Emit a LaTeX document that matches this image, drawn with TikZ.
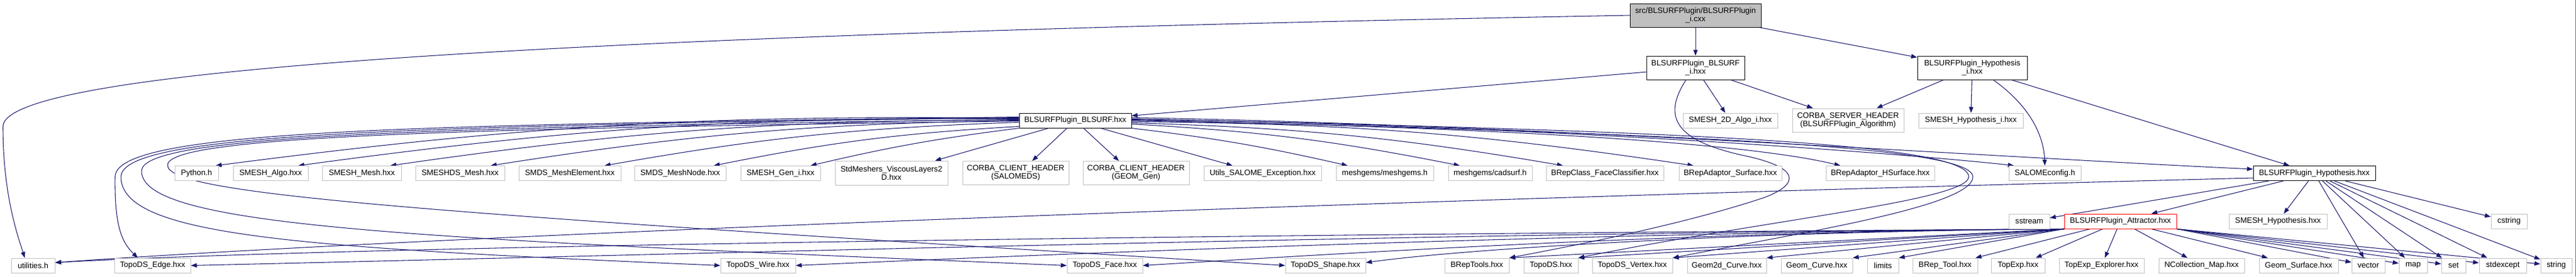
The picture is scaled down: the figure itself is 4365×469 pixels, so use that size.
\documentclass[tikz,border=0pt]{standalone}
\usepackage{fontspec}
\setmainfont{Liberation Sans}
\usetikzlibrary{arrows.meta,calc,backgrounds}

\definecolor{leafgray}{HTML}{BFBFBF}
\definecolor{depblue}{HTML}{191970}
\definecolor{framegray}{HTML}{6B6B6B}

\begin{document}
\begin{tikzpicture}[x=0.75pt,y=-0.75pt,bw/.style={minimum width=#1*0.75pt}]
        \tikzstyle{every node}=[rectangle,draw=leafgray,fill=white,line width=0.75pt,inner sep=0pt,minimum height=18.75pt,align=center,font=\fontsize{10}{10.5}\selectfont]
        \tikzstyle{tall}=[minimum height=30pt]
        \tikzstyle{parent}=[draw=black]
        \tikzstyle{dep}=[depblue,line width=0.8pt,-{Triangle[length=7.5pt,width=5.5pt]}]
        \useasboundingbox (0,0) rectangle (4365,469);
        \draw[framegray,line width=0.75pt] (4364.5,0) -- (4364.5,469);

        % top of the graph
        \node[parent,fill=leafgray,bw=222,tall] (root) at (2873,26) {src/BLSURFPlugin/BLSURFPlugin\\\_i.cxx};
        \node[parent,bw=166,tall] (bsi) at (2873,115) {BLSURFPlugin\_BLSURF\\\_i.hxx};
        \node[parent,bw=186,tall] (hypi) at (3342,115) {BLSURFPlugin\_Hypothesis\\\_i.hxx};

        \node[parent,bw=190] (bsurf) at (1822,204.5) {BLSURFPlugin\_BLSURF.hxx};
        \node[bw=160] (smesh2d) at (2932,204.5) {SMESH\_2D\_Algo\_i.hxx};
        \node[bw=189,tall] (corbasrv) at (3131.5,204) {CORBA\_SERVER\_HEADER\\(BLSURFPlugin\_Algorithm)};
        \node[bw=177] (smeshhypi) at (3339.5,204.5) {SMESH\_Hypothesis\_i.hxx};

        % includes of BLSURFPlugin_BLSURF.hxx
        \node[bw=74] (python) at (333,294) {Python.h};
        \node[bw=127] (smeshalgo) at (458.5,294) {SMESH\_Algo.hxx};
        \node[bw=134] (smeshmesh) at (613,294) {SMESH\_Mesh.hxx};
        \node[bw=151] (smeshdsmesh) at (779.5,294) {SMESHDS\_Mesh.hxx};
        \node[bw=173] (smdselem) at (965.5,294) {SMDS\_MeshElement.hxx};
        \node[bw=155] (smdsnode) at (1152.5,294) {SMDS\_MeshNode.hxx};
        \node[bw=135] (smeshgen) at (1322.5,294) {SMESH\_Gen\_i.hxx};
        \node[bw=191,minimum height=30.75pt] (viscous) at (1510.5,293.5) {StdMeshers\_ViscousLayers2\\D.hxx};
        \node[bw=180,tall] (corbasalome) at (1721,293.5) {CORBA\_CLIENT\_HEADER\\(SALOMEDS)};
        \node[bw=180,tall] (corbageom) at (1925,293.5) {CORBA\_CLIENT\_HEADER\\(GEOM\_Gen)};
        \node[bw=199] (utilsexc) at (2139.5,294) {Utils\_SALOME\_Exception.hxx};
        \node[bw=165] (meshgems) at (2346.5,294) {meshgems/meshgems.h};
        \node[bw=142] (cadsurf) at (2525,294) {meshgems/cadsurf.h};
        \node[bw=199] (brepclass) at (2719.5,294) {BRepClass\_FaceClassifier.hxx};
        \node[bw=174] (brepadsurf) at (2932,294) {BRepAdaptor\_Surface.hxx};
        \node[bw=184] (brepadhsurf) at (3186,294) {BRepAdaptor\_HSurface.hxx};
        \node[bw=122] (salomecfg) at (3465,294) {SALOMEconfig.h};
        \node[parent,bw=207] (hyp) at (3921.5,294) {BLSURFPlugin\_Hypothesis.hxx};

        \node[bw=69] (stdsstream) at (3438.5,375.5) {sstream};
        \node[draw=red,bw=190] (attr) at (3593,375.5) {BLSURFPlugin\_Attractor.hxx};
        \node[bw=166] (smeshhyp) at (3860,375.5) {SMESH\_Hypothesis.hxx};
        \node[bw=61] (stdcstring) at (4251.5,375.5) {cstring};

        % bottom row
        \node[bw=74] (utilities) at (56,450.5) {utilities.h};
        \node[bw=129] (topoedge) at (258.5,450.5) {TopoDS\_Edge.hxx};
        \node[bw=127] (topowire) at (1284.5,450.5) {TopoDS\_Wire.hxx};
        \node[bw=128] (topoface) at (1872,450.5) {TopoDS\_Face.hxx};
        \node[bw=136] (toposhape) at (2246,450.5) {TopoDS\_Shape.hxx};
        \node[bw=109] (breptools) at (2502.5,450.5) {BRepTools.hxx};
        \node[bw=92] (topods) at (2628,450.5) {TopoDS.hxx};
        \node[bw=136] (topovertex) at (2766,450.5) {TopoDS\_Vertex.hxx};
        \node[bw=134] (geom2dcurve) at (2926,450.5) {Geom2d\_Curve.hxx};
        \node[bw=121] (geomcurve) at (3078.5,450.5) {Geom\_Curve.hxx};
        \node[bw=53] (stdlimits) at (3190.5,450.5) {limits};
        \node[bw=110] (breptool) at (3296,450.5) {BRep\_Tool.hxx};
        \node[bw=91] (topexp) at (3419.5,450.5) {TopExp.hxx};
        \node[bw=144] (topexpexp) at (3561,450.5) {TopExp\_Explorer.hxx};
        \node[bw=145] (ncolmap) at (3730.5,450.5) {NCollection\_Map.hxx};
        \node[bw=134] (geomsurf) at (3895,450.5) {Geom\_Surface.hxx};
        \node[bw=56] (stdvector) at (4013,450.5) {vector};
        \node[bw=48] (stdmap) at (4089,450.5) {map};
        \node[bw=41] (stdset) at (4157.5,450.5) {set};
        \node[bw=80] (stdexc) at (4241,450.5) {stdexcept};
        \node[bw=53] (stdstring) at (4331.5,450.5) {string};

        \begin{scope}[on background layer]
        % the .cxx file
        \draw[dep] (root) -- (bsi);
        \draw[dep] (root) -- (hypi);
        \draw[dep] (root.west) .. controls (900,60) and (5,120) .. (5,215) .. controls (5,330) and (30,400) .. ($(utilities.north)+(-14,0)$);

        \draw[dep] (bsi) -- (bsurf);
        \draw[dep] (bsi) -- (smesh2d);
        \draw[dep] (bsi) -- (corbasrv);
        \draw[dep] ($(bsi.south)+(-16,0)$) .. controls (2815,200) and (2840,240) .. (2960,265) .. controls (3050,285) and (3050,312) .. (2990,335) .. controls (2850,382) and (2650,420) .. (breptools.north east);

        \draw[dep] (hypi) -- (corbasrv);
        \draw[dep] (hypi) -- (smeshhypi);
        \draw[dep] (hypi.-30) .. controls (3440,180) and (3463,230) .. (salomecfg.north);
        \draw[dep] (hypi) -- (hyp);

        % BLSURFPlugin_BLSURF.hxx
        \draw[dep] ($(bsurf.west)+(0,-4)$) to[bend right=4] ($(python.north east)+(-5,0)$);
        \draw[dep] ($(bsurf.west)+(0,-3)$) to[bend right=4] ($(smeshalgo.north east)+(-17,0)$);
        \draw[dep] ($(bsurf.west)+(0,-1)$) to[bend right=4] ($(smeshmesh.north east)+(-19,0)$);
        \draw[dep] (bsurf.west) to[bend right=4] ($(smeshdsmesh.north east)+(-24,0)$);
        \draw[dep] ($(bsurf.west)+(0,3)$) to[bend right=4] ($(smdselem.north east)+(-28,0)$);
        \draw[dep] ($(bsurf.south west)+(0,-3)$) to[bend right=4] ($(smdsnode.north east)+(-21,0)$);
        \draw[dep] (bsurf.south west) to[bend right=3] ($(smeshgen.north east)+(-17,0)$);
        \draw[dep] ($(bsurf.south)+(-45,0)$) -- ($(viscous.north east)+(-22,0)$);
        \draw[dep] ($(bsurf.south)+(-14,0)$) -- ($(corbasalome.north)+(28,0)$);
        \draw[dep] ($(bsurf.south)+(14,0)$) -- ($(corbageom.north)+(-29,0)$);
        \draw[dep] ($(bsurf.south)+(43,0)$) -- ($(utilsexc.north west)+(49,0)$);
        \draw[dep] (bsurf.south east) to[bend left=3] ($(meshgems.north west)+(20,0)$);
        \draw[dep] ($(bsurf.east)+(0,6)$) to[bend left=4] ($(cadsurf.north west)+(20,0)$);
        \draw[dep] ($(bsurf.east)+(0,4)$) to[bend left=4] ($(brepclass.north west)+(29,0)$);
        \draw[dep] ($(bsurf.east)+(0,2)$) to[bend left=4] ($(brepadsurf.north west)+(25,0)$);
        \draw[dep] (bsurf.east) .. controls (2500,215) and (2950,240) .. ($(brepadhsurf.north west)+(25,0)$);
        \draw[dep] ($(bsurf.east)+(0,-2)$) .. controls (2700,215) and (3300,268) .. ($(salomecfg.north west)+(9,0)$);
        \draw[dep] ($(bsurf.east)+(0,-5)$) .. controls (2600,212) and (3400,268) .. ($(hyp.west)+(0,-7)$);
        \draw[dep] ($(bsurf.east)+(0,-3)$) .. controls (2800,222) and (3335,240) .. (3336,300) .. controls (3334,340) and (3000,372) .. (topods.north east);
        \draw[dep] ($(bsurf.east)+(0,-1)$) .. controls (2800,226) and (3343,245) .. (3343,300) .. controls (3343,350) and (3050,395) .. (topovertex.north east);
        \draw[dep] ($(bsurf.west)+(0,-6)$) .. controls (700,212) and (196,220) .. (195,300) .. controls (194,380) and (205,410) .. ($(topoedge.north)+(-25,0)$);
        \draw[dep] ($(bsurf.west)+(0,-5)$) .. controls (700,214) and (205,225) .. (205,300) .. controls (205,400) and (500,420) .. (topowire.west);
        \draw[dep] ($(bsurf.west)+(0,-2)$) .. controls (750,216) and (240,228) .. (240,290) .. controls (238,385) and (700,405) .. (topoface.west);
        \draw[dep] ($(bsurf.west)+(0,1)$) .. controls (800,218) and (285,230) .. (284,280) .. controls (282,330) and (700,360) .. (toposhape.west);

        % BLSURFPlugin_Hypothesis.hxx
        \draw[dep] (hyp) -- (stdsstream);
        \draw[dep] (hyp) -- (attr);
        \draw[dep] (hyp) -- (smeshhyp);
        \draw[dep] (hyp) -- (stdcstring);
        \draw[dep] (hyp) -- (stdvector);
        \draw[dep] (hyp) -- (stdmap);
        \draw[dep] (hyp) -- (stdset);
        \draw[dep] (hyp) -- (stdexc);
        \draw[dep] (hyp) -- (stdstring);
        \draw[dep] ($(hyp.south west)+(0,-5)$) .. controls (2500,335) and (800,395) .. ($(utilities.east)+(0,-5)$);

        % BLSURFPlugin_Attractor.hxx
        \draw[dep] (attr.south west) .. controls (2500,395) and (700,412) .. ($(utilities.east)+(0,-5)$);
        \draw[dep] (attr.south west) .. controls (2400,396) and (1300,428) .. (topoedge.east);
        \draw[dep] (attr.south west) .. controls (2700,395) and (1900,426) .. (topowire.east);
        \draw[dep] (attr.south west) .. controls (2900,393) and (2400,422) .. (topoface.east);
        \draw[dep] (attr.south west) .. controls (3000,392) and (2500,420) .. ($(toposhape.east)+(0,-5)$);
        \draw[dep] (attr.south west) -- (breptools.north east);
        \draw[dep] (attr.south west) -- (topods.north east);
        \draw[dep] (attr.south west) -- (topovertex.north east);
        \draw[dep] (attr.south west) -- (geom2dcurve.north east);
        \draw[dep] (attr.south west) -- (geomcurve.north east);
        \draw[dep] (attr.south west) -- (stdlimits.north east);
        \draw[dep] (attr) -- (breptool);
        \draw[dep] (attr) -- (topexp);
        \draw[dep] (attr) -- (topexpexp);
        \draw[dep] (attr) -- (ncolmap);
        \draw[dep] (attr) -- (geomsurf);
        \draw[dep] (attr.south east) -- (stdvector);
        \draw[dep] (attr.south east) -- (stdmap);
        \draw[dep] (attr.south east) -- (stdset);
        \draw[dep] (attr.south east) -- (stdexc);
        \draw[dep] (attr.south east) -- (stdstring);
        \end{scope}
\end{tikzpicture}
\end{document}
